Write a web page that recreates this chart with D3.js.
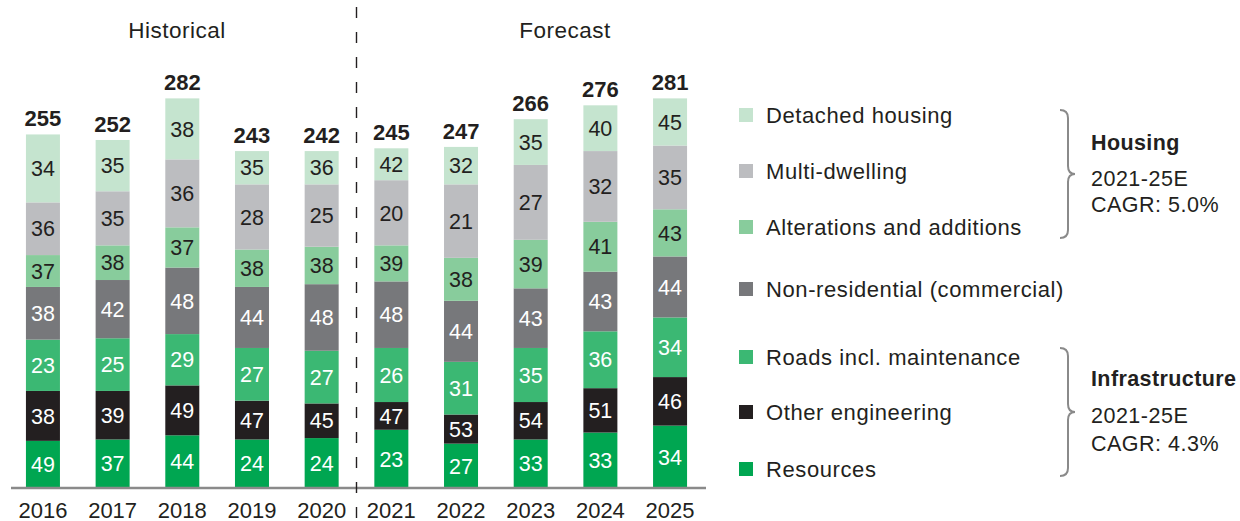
<!DOCTYPE html>
<html>
<head>
<meta charset="utf-8">
<script src="https://cdn.jsdelivr.net/npm/d3@7"></script>
<style>
  html, body { margin: 0; padding: 0; background: #fff; }
  svg { display: block; }
  text { font-family: "Liberation Sans", Arial, sans-serif; fill: #231f20; }
</style>
</head>
<body>
<svg id="chart" width="1240" height="521"></svg>
<script>
// ---- data ----
const years = ["2016","2017","2018","2019","2020","2021","2022","2023","2024","2025"];
const totals = [255, 252, 282, 243, 242, 245, 247, 266, 276, 281];
const resources    = [49, 37, 44, 24, 24, 23, 27, 33, 33, 34];
const otherEng     = [38, 39, 49, 47, 45, 47, 53, 54, 51, 46];
const roads        = [23, 25, 29, 27, 27, 26, 31, 35, 36, 34];
const nonRes       = [38, 42, 48, 44, 48, 48, 44, 43, 43, 44];
const alterations  = [37, 38, 37, 38, 38, 39, 38, 39, 41, 43];
const multi        = [36, 35, 36, 28, 25, 20, 21, 27, 32, 35];
const detached     = [34, 35, 38, 35, 36, 42, 32, 35, 40, 45];
const seriesNames  = ["Resources", "Other engineering", "Roads incl. maintenance",
                      "Non-residential (commercial)", "Alterations and additions",
                      "Multi-dwelling", "Detached housing"];
const periodLabels = ["Historical", "Forecast"];
const groupTitles  = ["Housing", "Infrastructure"];
const groupPeriod  = ["2021-25E", "2021-25E"];
const groupCagr    = ["CAGR: 5.0%", "CAGR: 4.3%"];

// ---- styles ----
const colors = ["#00a651", "#231f20", "#3bb873", "#77787b", "#88cc9c", "#bcbdc0", "#c5e4cf"];
const labelColors = ["#fff", "#fff", "#fff", "#fff", "#231f20", "#231f20", "#231f20"];

const seriesValues = [resources, otherEng, roads, nonRes, alterations, multi, detached];
const keys = d3.range(seriesValues.length);
const rows = years.map((y, i) => {
  const r = { year: y };
  keys.forEach(k => r[k] = seriesValues[k][i]);
  return r;
});

// The reference stacks segment heights in reverse order of the labelled series
const geomKeys = keys.slice().reverse();
const stacked = d3.stack().keys(geomKeys)(rows);

const svg = d3.select("#chart");
const x = d3.scaleBand().domain(years).range([12, 701]).paddingInner(0.512).paddingOuter(0.2);
const y = d3.scaleLinear().domain([0, 282]).range([488, 97]);

// bars
const layers = svg.append("g").selectAll("g").data(stacked).join("g")
  .attr("fill", (d, j) => colors[j]);
layers.selectAll("rect").data(d => d).join("rect")
  .attr("x", d => x(d.data.year))
  .attr("width", x.bandwidth())
  .attr("y", d => y(d[1]))
  .attr("height", d => y(d[0]) - y(d[1]));

// segment labels
stacked.forEach((layer, j) => {
  svg.append("g").selectAll("text").data(layer).join("text")
    .attr("x", d => x(d.data.year) + x.bandwidth() / 2)
    .attr("y", d => (y(d[0]) + y(d[1])) / 2)
    .attr("dy", "0.36em")
    .attr("text-anchor", "middle")
    .style("font-size", "21.5px")
    .style("fill", labelColors[j])
    .text(d => d.data[keys[j]]);
});

// totals
const tops = stacked[stacked.length - 1];
svg.append("g").selectAll("text").data(tops).join("text")
  .attr("x", d => x(d.data.year) + x.bandwidth() / 2)
  .attr("y", d => y(d[1]) - 8)
  .attr("text-anchor", "middle")
  .style("font-size", "22px")
  .style("font-weight", "bold")
  .text((d, i) => totals[i]);

// axis
const axis = svg.append("g").attr("transform", "translate(0,488)")
  .call(d3.axisBottom(x).tickSize(0).tickPadding(0));
axis.select(".domain").remove();
axis.append("line").attr("x1", 11).attr("x2", 706).attr("y1", 0).attr("y2", 0)
  .attr("stroke", "#8a8a8a").attr("stroke-width", 2.7);
axis.selectAll(".tick text")
  .attr("y", 29.5).attr("dy", 0)
  .style("font-family", "\"Liberation Sans\", Arial, sans-serif")
  .style("font-size", "22px").style("fill", "#231f20");

// divider
const divX = (x(years[4]) + x.bandwidth() + x(years[5])) / 2;
svg.append("line").attr("x1", divX).attr("x2", divX).attr("y1", 7).attr("y2", 521)
  .attr("stroke", "#231f20").attr("stroke-width", 1.4).attr("stroke-dasharray", "11,14");

// period headers
const headerX = [177, 565];
headerX.forEach((cx, i) => {
  svg.append("text").attr("x", cx).attr("y", 38).attr("text-anchor", "middle")
    .style("font-size", "22.5px").style("letter-spacing", "0.5px")
    .text(periodLabels[i]);
});

// legend (top to bottom)
const legendOrder = keys.slice().reverse();
const legendBaselines = [123, 179, 235, 297, 365, 420, 477];
const lg = svg.append("g");
legendOrder.forEach((k, i) => {
  lg.append("rect").attr("x", 739).attr("y", legendBaselines[i] - 15)
    .attr("width", 14).attr("height", 14).attr("fill", colors[k]);
  lg.append("text").attr("x", 766).attr("y", legendBaselines[i])
    .style("font-size", "22px").style("letter-spacing", "0.6px")
    .text(seriesNames[k]);
});

// braces
function brace(x0, y0, y1) {
  const x1 = x0 + 8, x2 = x0 + 15, r = 8, ym = (y0 + y1) / 2;
  return `M${x0},${y0} Q${x1},${y0} ${x1},${y0 + r} L${x1},${ym - r} Q${x1},${ym} ${x2},${ym}` +
         ` Q${x1},${ym} ${x1},${ym + r} L${x1},${y1 - r} Q${x1},${y1} ${x0},${y1}`;
}
const braceSpans = [[110, 238], [348, 476]];
const groupBaselines = [[150, 186, 212], [386, 423, 451]];
braceSpans.forEach((s, i) => {
  svg.append("path").attr("d", brace(1060, s[0], s[1]))
    .attr("fill", "none").attr("stroke", "#8a8a8a").attr("stroke-width", 2);
  const b = groupBaselines[i];
  svg.append("text").attr("x", 1091).attr("y", b[0])
    .style("font-size", "21.5px").style("font-weight", "bold").style("letter-spacing", "0.4px")
    .text(groupTitles[i]);
  svg.append("text").attr("x", 1091).attr("y", b[1])
    .style("font-size", "21.5px").style("letter-spacing", "0.5px").text(groupPeriod[i]);
  svg.append("text").attr("x", 1091).attr("y", b[2])
    .style("font-size", "21.5px").style("letter-spacing", "0.5px").text(groupCagr[i]);
});
</script>
</body>
</html>
